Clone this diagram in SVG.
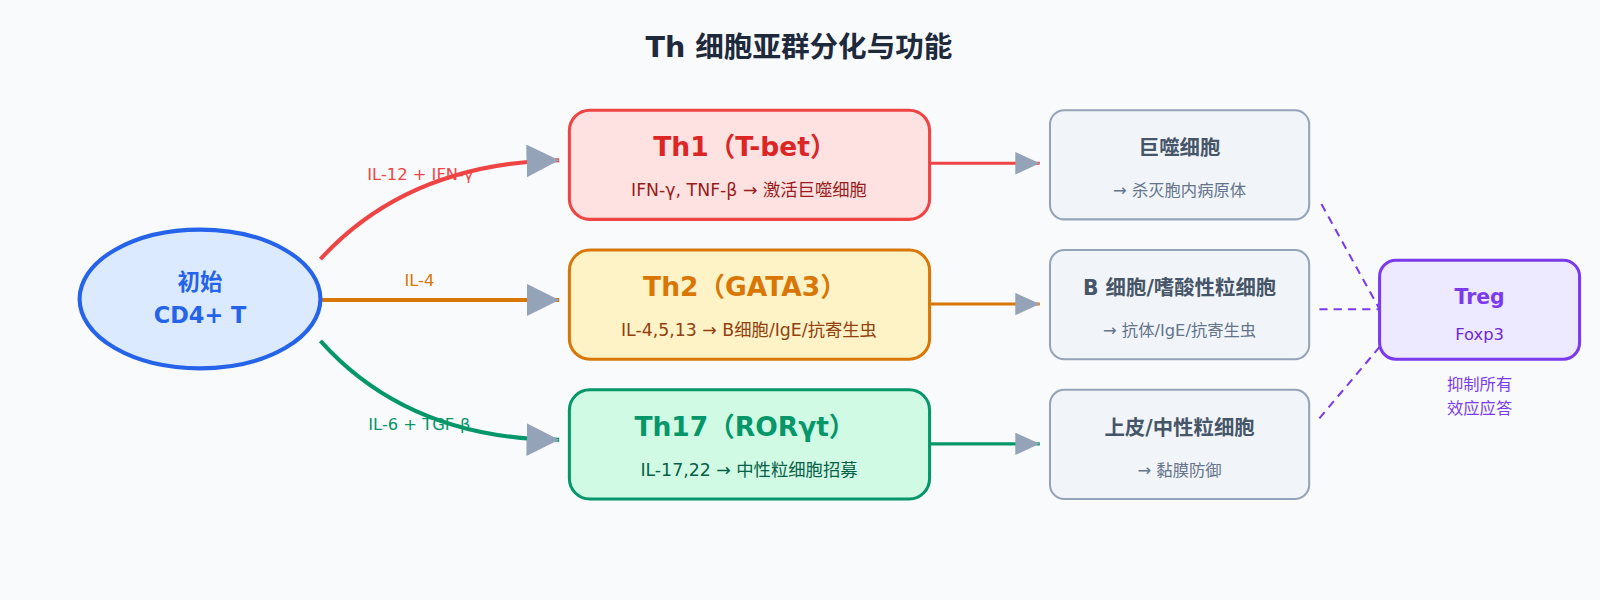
<svg xmlns="http://www.w3.org/2000/svg" width="1600" height="600" viewBox="0 0 1600 600">
<defs>
<marker id="big" markerUnits="userSpaceOnUse" markerWidth="34" markerHeight="34" refX="32" refY="16" orient="auto"><path d="M0,0 L32,16 L0,32 Z" fill="#94a3b8"/></marker>
<marker id="sm" markerUnits="userSpaceOnUse" markerWidth="26" markerHeight="26" refX="24" refY="11" orient="auto"><path d="M0,0 L24,11 L0,22 Z" fill="#94a3b8"/></marker>
</defs>
<style>
text{font-family:"DejaVu Sans","Noto Sans CJK SC",sans-serif;text-anchor:middle}
.t{font-size:26px;font-weight:bold}
.s{font-size:17px}
.h{font-size:20px;font-weight:bold;fill:#475569}
.d{font-size:16px;fill:#64748b}
.e{fill:#f1f5f9;stroke:#94a3b8;stroke-width:2}
.l{font-size:16px}
</style>
<rect width="1600" height="600" fill="#f8fafc"/>
<g transform="scale(1.0204)">
<text x="783" y="56" font-size="28" font-weight="bold" fill="#1e293b">Th 细胞亚群分化与功能</text>
<g id="connectors" fill="none" stroke-width="4">
<path d="M314,254 Q400,160 548,157" stroke="#ef4444" marker-end="url(#big)"/>
<path d="M314,294 L548,294" stroke="#d97706" marker-end="url(#big)"/>
<path d="M314,334 Q400,430 548,431" stroke="#059669" marker-end="url(#big)"/>
<path d="M912,160 L1019,160" stroke="#ef4444" stroke-width="3" marker-end="url(#sm)"/>
<path d="M912,298 L1019,298" stroke="#d97706" stroke-width="3" marker-end="url(#sm)"/>
<path d="M912,435 L1019,435" stroke="#059669" stroke-width="3" marker-end="url(#sm)"/>
<g stroke="#7c3aed" stroke-width="2" stroke-dasharray="8,6">
<path d="M1295,200 L1352,303"/><path d="M1293,303 L1352,303"/><path d="M1293,410 L1352,340"/>
</g>
<text class="l" x="412" y="176" fill="#ef4444" stroke="none">IL-12 + IFN-γ</text>
<text class="l" x="411" y="280" fill="#d97706" stroke="none">IL-4</text>
<text class="l" x="411" y="421" fill="#059669" stroke="none">IL-6 + TGF-β</text>
</g>
<g id="naive"><ellipse cx="196" cy="293" rx="118" ry="68" fill="#dbeafe" stroke="#2563eb" stroke-width="4"/>
<text x="196" y="284" font-size="22" font-weight="bold" fill="#2563eb">初始</text>
<text x="196" y="317" font-size="22" font-weight="bold" fill="#2563eb">CD4+ T</text></g>
<g id="th1"><rect x="558" y="108" width="353" height="107" rx="20" fill="#fee2e2" stroke="#ef4444" stroke-width="3"/>
<text class="t" x="730" y="153" fill="#dc2626">Th1（T-bet）</text>
<text class="s" x="734" y="192" fill="#991b1b">IFN-γ, TNF-β → 激活巨噬细胞</text></g>
<g id="th2"><rect x="558" y="245" width="353" height="107" rx="20" fill="#fef3c7" stroke="#d97706" stroke-width="3"/>
<text class="t" x="730" y="290" fill="#d97706">Th2（GATA3）</text>
<text class="s" x="734" y="329" fill="#92400e">IL-4,5,13 → B细胞/IgE/抗寄生虫</text></g>
<g id="th17"><rect x="558" y="382" width="353" height="107" rx="20" fill="#d1fae5" stroke="#059669" stroke-width="3"/>
<text class="t" x="730" y="427" fill="#059669">Th17（RORγt）</text>
<text class="s" x="734" y="466" fill="#065f46">IL-17,22 → 中性粒细胞招募</text></g>
<g id="macro"><rect class="e" x="1029" y="108" width="254" height="107" rx="14"/>
<text class="h" x="1156" y="152">巨噬细胞</text><text class="d" x="1156" y="192">→ 杀灭胞内病原体</text></g>
<g id="bcell"><rect class="e" x="1029" y="245" width="254" height="107" rx="14"/>
<text class="h" x="1156" y="289">B 细胞/嗜酸性粒细胞</text><text class="d" x="1156" y="329">→ 抗体/IgE/抗寄生虫</text></g>
<g id="epi"><rect class="e" x="1029" y="382" width="254" height="107" rx="14"/>
<text class="h" x="1156" y="426">上皮/中性粒细胞</text><text class="d" x="1156" y="466">→ 黏膜防御</text></g>
<g id="treg"><rect x="1352" y="255" width="196" height="97" rx="16" fill="#ede9fe" stroke="#7c3aed" stroke-width="3"/>
<text x="1450" y="298" font-size="20" font-weight="bold" fill="#7c3aed">Treg</text>
<text x="1450" y="333" font-size="16" fill="#6d28d9">Foxp3</text>
<text x="1450" y="382" font-size="16" fill="#7c3aed">抑制所有</text>
<text x="1450" y="406" font-size="16" fill="#7c3aed">效应应答</text></g>
</g>
</svg>
